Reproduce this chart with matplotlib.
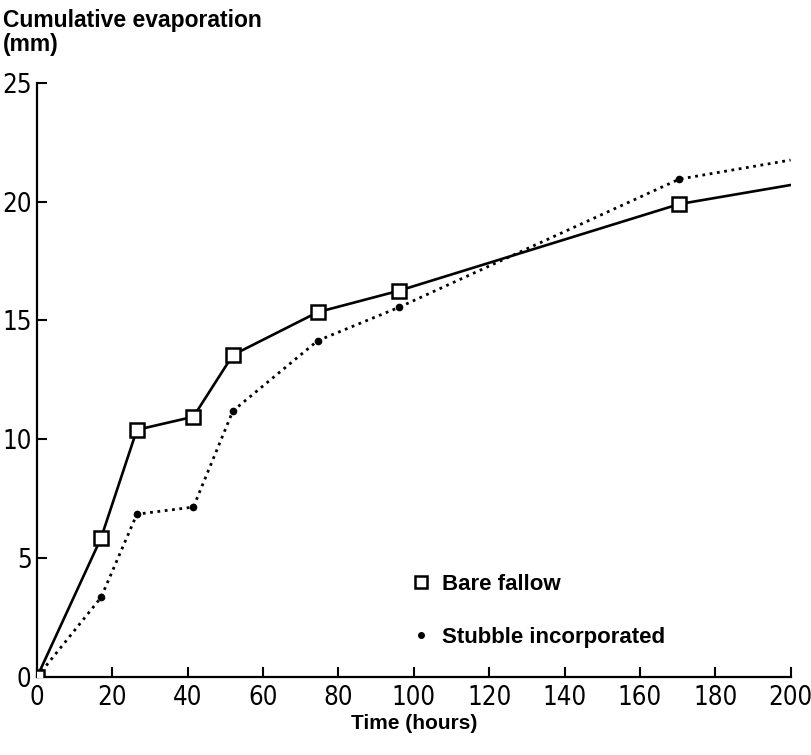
import matplotlib.pyplot as plt
from matplotlib.lines import Line2D

# time (hours) and cumulative evaporation (mm)
hours = [0, 17, 26.5, 41.5, 52, 74.5, 96, 170.5, 200]
bare_fallow = [0, 5.85, 10.4, 10.95, 13.55, 15.35, 16.25, 19.9, 20.7]
stubble = [0, 3.35, 6.85, 7.15, 11.2, 14.15, 15.55, 20.95, 21.75]

xticks = list(range(0, 201, 20))
yticks = [0, 5, 10, 15, 20, 25]

tick_font = ['DejaVu Sans', 'Liberation Sans']
bold_font = ['Liberation Sans', 'DejaVu Sans']

fig = plt.figure(figsize=(8.12, 7.55), dpi=100)
ax = fig.add_axes([0.0456, 0.1033, 0.928, 0.787])

n = len(hours) - 1
ax.plot(hours, bare_fallow, '-', color='black', lw=1.9, marker='s',
        ms=10, mfc='white', mec='black', mew=1.8, markevery=list(range(n)),
        zorder=3)
ax.plot(hours, stubble, ':', color='black', lw=2.0, marker='o',
        ms=4.5, markevery=list(range(1, n)), zorder=2)

ax.set_xlim(0, 200)
ax.set_ylim(0, 25)
ax.set_xticks(xticks)
ax.set_yticks(yticks)
ax.set_xticklabels([str(t) for t in xticks], family=tick_font,
                   fontstretch='condensed', fontsize=18.5)
ax.set_yticklabels([str(t) for t in yticks], family=tick_font,
                   fontstretch='condensed', fontsize=18.5)
ax.tick_params(direction='in', length=7, width=1.5, pad=6)
ax.tick_params(axis='y', pad=4)

for side in ['top', 'right']:
    ax.spines[side].set_visible(False)
for side in ['left', 'bottom']:
    ax.spines[side].set_linewidth(1.6)

ax.set_xlabel('Time (hours)', family=bold_font, fontweight='bold',
              fontsize=15, labelpad=2)
fig.text(0.004, 0.988, 'Cumulative evaporation\n(mm)', family=bold_font,
         fontweight='bold', fontsize=16.5, va='top', ha='left',
         linespacing=1.05)

handles = [
    Line2D([], [], ls='none', marker='s', ms=9, mfc='white', mec='black',
           mew=1.8, color='black'),
    Line2D([], [], ls='none', marker='o', ms=4, color='black'),
]
ax.legend(handles, ['Bare fallow', 'Stubble incorporated'],
          loc='upper left', bbox_to_anchor=(0.465, 0.207), frameon=False,
          prop={'family': bold_font, 'weight': 'bold', 'size': 16},
          handletextpad=0.35, labelspacing=1.45, handlelength=1.2)

fig.savefig('out.png', dpi=100)
